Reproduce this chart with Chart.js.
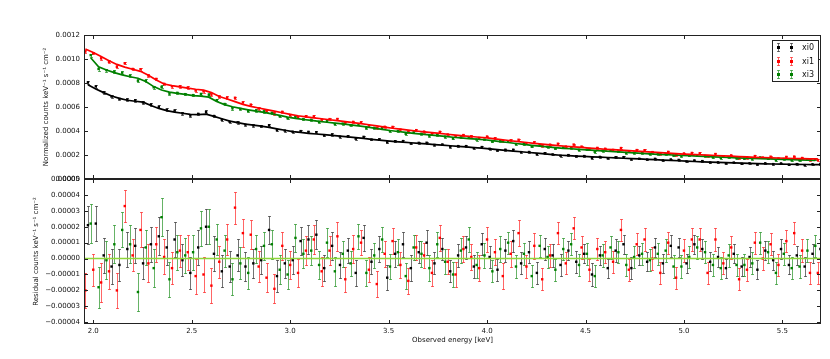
<!DOCTYPE html>
<html>
<head>
<meta charset="utf-8">
<script src="https://cdn.jsdelivr.net/npm/chart.js@4.4.0/dist/chart.umd.min.js"></script>
<style>
  html, body { margin: 0; padding: 0; background: #fff; }
  #wrap { position: relative; width: 830px; height: 359px; overflow: hidden; }
  canvas { position: absolute; left: 0; }
  #topChart { top: 0; }
  #resChart { top: 170px; }
</style>
</head>
<body>
<div id="wrap">
  <canvas id="topChart" width="830" height="190"></canvas>
  <canvas id="resChart" width="830" height="189"></canvas>
</div>
<script>
// ── Data ──────────────────────────────────────────────────────────
// energies in keV, model in 1e-4 counts/keV/s/cm2, residuals + errors in 1e-5

const xTicks = [2.0, 2.5, 3.0, 3.5, 4.0, 4.5, 5.0, 5.5];

const xi0Energy = [1.973,2.013,2.053,2.093,2.133,2.173,2.213,2.253,2.293,2.333,2.373,2.413,2.453,2.493,2.533,2.573,2.613,2.653,2.693,2.733,2.773,2.813,2.853,2.893,2.933,2.973,3.013,3.053,3.093,3.133,3.173,3.213,3.253,3.293,3.333,3.373,3.413,3.453,3.493,3.533,3.573,3.613,3.653,3.693,3.733,3.773,3.813,3.853,3.893,3.933,3.973,4.013,4.053,4.093,4.133,4.173,4.213,4.253,4.293,4.333,4.373,4.413,4.453,4.493,4.533,4.573,4.613,4.653,4.693,4.733,4.773,4.813,4.853,4.893,4.933,4.973,5.013,5.053,5.093,5.133,5.173,5.213,5.253,5.293,5.333,5.373,5.413,5.453,5.493,5.533,5.573,5.613,5.653,5.693];
const xi0Model = [7.85,7.50,7.20,6.92,6.72,6.56,6.48,6.40,6.12,5.88,5.70,5.58,5.48,5.38,5.36,5.40,5.22,5.02,4.82,4.70,4.58,4.49,4.40,4.30,4.18,4.06,3.95,3.88,3.81,3.75,3.69,3.63,3.57,3.51,3.45,3.38,3.31,3.24,3.18,3.12,3.07,3.02,2.97,2.92,2.87,2.82,2.77,2.72,2.67,2.62,2.57,2.51,2.45,2.39,2.33,2.27,2.21,2.15,2.09,2.03,1.98,1.94,1.91,1.88,1.85,1.82,1.79,1.76,1.73,1.70,1.67,1.64,1.61,1.58,1.55,1.52,1.49,1.46,1.43,1.40,1.38,1.36,1.34,1.32,1.30,1.28,1.26,1.25,1.24,1.23,1.22,1.21,1.20,1.19];
const xi0Resid = [2.1,2.2,0.2,-0.5,-0.4,0.6,0.8,-0.3,0.9,1.4,0.7,1.2,-0.1,-0.9,0.7,2.0,0.3,-0.8,-0.5,0.2,-0.5,-0.3,-0.1,1.8,-1.1,-0.3,-0.1,1.1,1.2,1.5,-0.6,0.8,-0.4,0.5,-0.9,1.3,-0.2,0.6,-1.2,0.3,0.9,-0.6,0.4,1.0,-0.3,0.6,-0.8,0.2,0.7,-0.5,0.9,0.1,-0.7,0.5,1.1,-0.3,0.4,-0.9,0.6,0.2,-0.4,0.5,-0.2,0.3,-1.0,0.2,-0.6,0.5,0.9,-0.6,0.2,-0.2,0.7,-0.3,0.8,0.7,-0.3,0.9,0.6,-0.2,0.1,-0.6,0.3,-0.5,0.1,-0.7,0.5,-0.1,0.6,-0.4,0.2,-0.5,0.3,0.6];
const xi0Err = [1.2,1.1,1.1,1.1,1.0,1.1,1.1,1.0,1.1,1.2,1.1,1.1,1.0,1.0,1.1,1.1,1.1,1.0,1.0,1.0,0.9,0.9,0.9,0.9,1.0,0.9,0.9,0.9,0.9,0.9,0.8,0.9,0.8,0.8,0.8,0.8,0.8,0.8,0.8,0.8,0.8,0.8,0.7,0.8,0.7,0.7,0.7,0.7,0.7,0.7,0.7,0.7,0.7,0.7,0.7,0.7,0.7,0.7,0.7,0.7,0.7,0.6,0.7,0.6,0.7,0.6,0.6,0.7,0.6,0.7,0.6,0.6,0.6,0.6,0.7,0.6,0.6,0.6,0.6,0.6,0.6,0.6,0.6,0.6,0.6,0.6,0.6,0.6,0.6,0.6,0.6,0.6,0.6,0.6];

const xi1Energy = [1.960,2.000,2.040,2.080,2.120,2.160,2.200,2.240,2.280,2.320,2.360,2.400,2.440,2.480,2.520,2.560,2.600,2.640,2.680,2.720,2.760,2.800,2.840,2.880,2.920,2.960,3.000,3.040,3.080,3.120,3.160,3.200,3.240,3.280,3.320,3.360,3.400,3.440,3.480,3.520,3.560,3.600,3.640,3.680,3.720,3.760,3.800,3.840,3.880,3.920,3.960,4.000,4.040,4.080,4.120,4.160,4.200,4.240,4.280,4.320,4.360,4.400,4.440,4.480,4.520,4.560,4.600,4.640,4.680,4.720,4.760,4.800,4.840,4.880,4.920,4.960,5.000,5.040,5.080,5.120,5.160,5.200,5.240,5.280,5.320,5.360,5.400,5.440,5.480,5.520,5.560,5.600,5.640,5.680];
const xi1Model = [10.83,10.55,10.20,9.85,9.55,9.32,9.15,8.97,8.65,8.25,7.92,7.78,7.67,7.58,7.48,7.40,7.20,6.88,6.67,6.45,6.22,6.05,5.92,5.78,5.65,5.52,5.38,5.27,5.18,5.10,5.02,4.94,4.86,4.78,4.70,4.62,4.52,4.42,4.32,4.23,4.15,4.08,4.00,3.93,3.86,3.80,3.73,3.66,3.60,3.54,3.48,3.42,3.35,3.27,3.19,3.11,3.04,2.97,2.90,2.84,2.78,2.73,2.68,2.63,2.58,2.53,2.48,2.44,2.40,2.36,2.32,2.28,2.24,2.20,2.16,2.12,2.08,2.05,2.02,1.99,1.96,1.93,1.90,1.87,1.84,1.81,1.79,1.77,1.75,1.73,1.71,1.70,1.68,1.67];
const xi1Resid = [-2.0,-0.7,-1.5,-0.8,-2.0,3.3,0.2,1.8,-0.3,0.9,0.1,-0.6,0.5,0.4,-1.1,-1.0,-1.7,-0.2,1.2,3.2,1.6,1.5,-0.5,-1.2,-1.9,0.8,-0.4,-0.9,0.5,1.2,-0.8,0.5,1.4,-1.3,0.6,1.0,-0.7,-1.6,0.3,1.1,-0.4,-1.4,0.7,0.2,-0.9,1.3,-0.2,-1.0,0.6,0.1,-0.6,1.2,0.4,-1.1,0.3,1.6,-0.5,0.8,-1.3,0.2,1.6,-0.3,1.9,0.7,-0.7,0.6,0.4,-0.2,1.8,-0.7,0.9,1.2,0.0,-0.9,1.0,-1.2,0.5,1.2,1.2,-0.9,1.2,-0.3,0.7,-1.3,-0.7,1.0,0.0,0.9,-0.4,1.1,1.6,0.5,-0.9,-0.9];
const xi1Err = [1.1,1.0,1.2,1.1,1.1,1.0,1.0,1.1,1.2,1.1,1.1,1.0,1.0,1.1,1.1,1.1,1.1,1.0,1.0,1.0,0.9,0.9,1.0,0.9,0.9,0.9,0.9,0.9,0.9,0.9,0.9,0.9,0.9,0.8,0.9,0.8,0.8,0.8,0.8,0.8,0.8,0.8,0.8,0.8,0.8,0.8,0.8,0.8,0.8,0.8,0.8,0.8,0.8,0.8,0.8,0.8,0.7,0.8,0.7,0.7,0.7,0.7,0.7,0.7,0.7,0.7,0.7,0.7,0.7,0.7,0.7,0.7,0.7,0.7,0.7,0.7,0.7,0.7,0.7,0.7,0.7,0.7,0.7,0.7,0.7,0.7,0.7,0.7,0.7,0.7,0.7,0.7,0.7,0.7];

const xi3Energy = [1.987,2.027,2.067,2.107,2.147,2.187,2.227,2.267,2.307,2.347,2.387,2.427,2.467,2.507,2.547,2.587,2.627,2.667,2.707,2.747,2.787,2.827,2.867,2.907,2.947,2.987,3.027,3.067,3.107,3.147,3.187,3.227,3.267,3.307,3.347,3.387,3.427,3.467,3.507,3.547,3.587,3.627,3.667,3.707,3.747,3.787,3.827,3.867,3.907,3.947,3.987,4.027,4.067,4.107,4.147,4.187,4.227,4.267,4.307,4.347,4.387,4.427,4.467,4.507,4.547,4.587,4.627,4.667,4.707,4.747,4.787,4.827,4.867,4.907,4.947,4.987,5.027,5.067,5.107,5.147,5.187,5.227,5.267,5.307,5.347,5.387,5.427,5.467,5.507,5.547,5.587,5.627,5.667];
const xi3Model = [10.10,9.35,9.08,8.86,8.68,8.52,8.40,8.12,7.70,7.42,7.24,7.14,7.05,6.95,6.90,6.82,6.45,6.20,6.02,5.88,5.76,5.65,5.55,5.43,5.30,5.16,5.05,4.96,4.88,4.80,4.73,4.66,4.59,4.51,4.43,4.34,4.24,4.14,4.04,3.96,3.88,3.81,3.74,3.67,3.61,3.55,3.48,3.42,3.37,3.32,3.27,3.20,3.12,3.04,2.96,2.88,2.81,2.74,2.67,2.61,2.56,2.52,2.47,2.42,2.38,2.34,2.30,2.26,2.22,2.18,2.14,2.10,2.06,2.03,2.00,1.97,1.94,1.91,1.88,1.85,1.82,1.79,1.76,1.74,1.72,1.70,1.68,1.66,1.64,1.62,1.60,1.58,1.56];
const xi3Resid = [2.2,-1.8,-0.1,0.9,1.8,0.9,-2.1,0.7,-0.6,2.6,-1.3,0.4,0.2,0.4,1.9,2.0,1.2,0.5,-1.3,-0.3,-0.9,0.6,0.8,0.9,-0.7,-1.0,1.3,0.3,0.5,-0.4,1.0,-0.8,0.3,-0.3,1.4,-0.9,0.2,1.2,-0.5,0.4,-1.1,0.7,0.3,-0.6,0.9,-0.2,-1.0,0.5,1.2,-0.4,0.2,-0.8,0.6,1.0,-0.5,0.3,-1.1,0.8,0.1,-0.7,0.6,0.9,-0.4,0.3,-1.1,0.2,0.7,0.4,-0.4,0.1,0.3,-0.1,0.3,0.5,-0.5,-0.5,0.1,0.7,0.4,-0.4,-0.6,0.2,-0.4,-0.4,-0.3,1.0,0.4,-0.9,0.3,-0.6,-0.5,0.5,0.8];
const xi3Err = [1.2,1.3,1.2,1.2,1.1,1.2,1.2,1.1,1.2,1.2,1.1,1.1,1.1,1.1,1.1,1.1,1.0,1.0,1.0,1.0,1.0,0.9,0.9,0.9,0.9,0.9,0.9,0.9,0.9,0.9,0.9,0.9,0.8,0.8,0.8,0.8,0.8,0.8,0.8,0.8,0.8,0.8,0.8,0.8,0.8,0.8,0.8,0.8,0.8,0.8,0.8,0.7,0.8,0.7,0.7,0.7,0.7,0.7,0.7,0.7,0.7,0.7,0.7,0.7,0.7,0.7,0.7,0.7,0.7,0.7,0.7,0.7,0.7,0.7,0.7,0.7,0.7,0.7,0.7,0.7,0.7,0.7,0.7,0.7,0.7,0.7,0.7,0.7,0.7,0.7,0.7,0.7,0.7];

const seriesNames = ['xi0', 'xi1', 'xi3'];

// ── Style ─────────────────────────────────────────────────────────
const FONT   = "'DejaVu Sans'";
const INK    = '#111';
const MODEL_UNIT = 1e-4;
const RES_UNIT   = 1e-5;
const X_MIN = 1.953, X_MAX = 5.696;

const SERIES = [
  { name: seriesNames[0], color: '#000000', bar: 'rgba(0,0,0,0.55)',    energy: xi0Energy, model: xi0Model, resid: xi0Resid, err: xi0Err },
  { name: seriesNames[1], color: '#ff0000', bar: 'rgba(255,0,0,0.6)',   energy: xi1Energy, model: xi1Model, resid: xi1Resid, err: xi1Err },
  { name: seriesNames[2], color: '#008000', bar: 'rgba(0,128,0,0.6)',   energy: xi3Energy, model: xi3Model, resid: xi3Resid, err: xi3Err },
];

Chart.defaults.font.family = FONT;
Chart.defaults.font.size = 7;
Chart.defaults.color = INK;

// ── Plugins ───────────────────────────────────────────────────────

// vertical error bars with caps, read from dataset.errors
const errorBars = {
  id: 'errorBars',
  beforeDatasetsDraw(chart) {
    const { ctx, chartArea: a, scales: { x, y } } = chart;
    ctx.save();
    ctx.beginPath(); ctx.rect(a.left, a.top, a.width, a.height); ctx.clip();
    ctx.lineWidth = 1;
    chart.data.datasets.forEach(ds => {
      if (!ds.errors) return;
      ctx.strokeStyle = ds.barColor;
      ds.data.forEach((p, i) => {
        const px = Math.round(x.getPixelForValue(p.x)) + 0.5;
        const lo = Math.round(y.getPixelForValue(p.y - ds.errors[i])) + 0.5;
        const hi = Math.round(y.getPixelForValue(p.y + ds.errors[i])) + 0.5;
        ctx.beginPath();
        ctx.moveTo(px, lo); ctx.lineTo(px, hi);
        ctx.moveTo(px - 1.5, lo); ctx.lineTo(px + 1.5, lo);
        ctx.moveTo(px - 1.5, hi); ctx.lineTo(px + 1.5, hi);
        ctx.stroke();
      });
    });
    ctx.restore();
  },
};

// zero line of the residual panel
const zeroLine = {
  id: 'zeroLine',
  afterDatasetsDraw(chart, args, opts) {
    if (!opts.show) return;
    const { ctx, chartArea: a, scales: { y } } = chart;
    const py = y.getPixelForValue(0);
    ctx.save();
    ctx.strokeStyle = '#8fd63a';
    ctx.lineWidth = 1.5;
    ctx.beginPath(); ctx.moveTo(a.left, py); ctx.lineTo(a.right, py); ctx.stroke();
    ctx.restore();
  },
};

// box around the axes + inward ticks on all four sides
const frame = {
  id: 'frame',
  afterDraw(chart) {
    const { ctx, chartArea: a, scales: { x, y } } = chart;
    const L = 4;
    ctx.save();
    ctx.strokeStyle = '#222';
    ctx.lineWidth = 1;
    ctx.strokeRect(Math.round(a.left) + 0.5, Math.round(a.top) + 0.5,
                   Math.round(a.width) - 1, Math.round(a.height) - 1);
    ctx.beginPath();
    xTicks.forEach(v => {
      const px = Math.round(x.getPixelForValue(v)) + 0.5;
      ctx.moveTo(px, a.bottom); ctx.lineTo(px, a.bottom - L);
      ctx.moveTo(px, a.top);    ctx.lineTo(px, a.top + L);
    });
    y.ticks.forEach(t => {
      const py = Math.round(y.getPixelForValue(t.value)) + 0.5;
      ctx.moveTo(a.left, py);  ctx.lineTo(a.left + L, py);
      ctx.moveTo(a.right, py); ctx.lineTo(a.right - L, py);
    });
    ctx.stroke();
    ctx.restore();
  },
};

// matplotlib-style legend box with two errorbar markers per row
const errLegend = {
  id: 'errLegend',
  afterDraw(chart, args, opts) {
    if (!opts.show) return;
    const { ctx, chartArea: a } = chart;
    const w = 46, h = 41;
    const left = a.right - 49, top = a.top + 5;
    ctx.save();
    ctx.fillStyle = '#fff';
    ctx.fillRect(left, top, w, h);
    ctx.strokeStyle = '#222';
    ctx.lineWidth = 1;
    ctx.strokeRect(left + 0.5, top + 0.5, w, h);
    ctx.font = `8px ${FONT}`;
    ctx.textBaseline = 'middle';
    SERIES.forEach((s, i) => {
      const cy = Math.round(top + 7 + i * 13.5) + 0.5;
      [left + 6.5, left + 19.5].forEach(cx => {
        ctx.strokeStyle = s.bar;
        ctx.beginPath();
        ctx.moveTo(cx, cy - 4); ctx.lineTo(cx, cy + 4);
        ctx.moveTo(cx - 1.5, cy - 4); ctx.lineTo(cx + 1.5, cy - 4);
        ctx.moveTo(cx - 1.5, cy + 4); ctx.lineTo(cx + 1.5, cy + 4);
        ctx.stroke();
        ctx.fillStyle = s.color;
        ctx.fillRect(cx - 1.5, cy - 1.5, 3, 3);
      });
      ctx.fillStyle = INK;
      ctx.fillText(s.name, left + 30, cy);
    });
    ctx.restore();
  },
};

// ── Helpers ───────────────────────────────────────────────────────

const fixWidth = s => { s.width = 84; };
const signed = digits => v => (v < -1e-12 ? '\u2212' : '') + Math.abs(v).toFixed(digits);

function pointsOf(s, useModel) {
  return s.energy.map((e, i) => ({
    x: e,
    y: useModel ? s.model[i] * MODEL_UNIT + s.resid[i] * RES_UNIT : s.resid[i] * RES_UNIT,
  }));
}

// ── 1. Normalized counts + model ──────────────────────────────────

function renderTopChart() {
  const modelSets = SERIES.map(s => ({
    type: 'line',
    data: s.energy.map((e, i) => ({ x: e, y: s.model[i] * MODEL_UNIT })),
    borderColor: s.color,
    borderWidth: 1.7,
    pointRadius: 0,
    tension: 0,
    order: 0,
  }));
  const dataSets = SERIES.map(s => ({
    type: 'scatter',
    data: pointsOf(s, true),
    errors: s.err.map(v => v * RES_UNIT),
    barColor: s.bar,
    backgroundColor: s.color,
    borderWidth: 0,
    pointStyle: 'rect',
    pointRadius: 1.7,
    order: 1,
  }));

  new Chart(document.getElementById('topChart'), {
    type: 'scatter',
    data: { datasets: [...modelSets, ...dataSets] },
    plugins: [errorBars, frame, errLegend],
    options: {
      responsive: false,
      animation: false,
      events: [],
      layout: { padding: { top: 35, right: 9, bottom: 11, left: 0 } },
      plugins: { legend: { display: false }, tooltip: { enabled: false }, errLegend: { show: true } },
      scales: {
        x: { type: 'linear', min: X_MIN, max: X_MAX, display: false },
        y: {
          min: 0, max: 0.0012,
          afterFit: fixWidth,
          grid: { display: false, drawTicks: false },
          border: { display: false },
          ticks: { stepSize: 0.0002, includeBounds: false, padding: 4, callback: signed(4) },
          title: {
            display: true,
            text: 'Normalized counts keV\u207B\u00B9 s\u207B\u00B9 cm\u207B\u00B2',
            padding: { top: 42, bottom: 0 },
            font: { size: 7 },
          },
        },
      },
    },
  });
}

// ── 2. Residuals ──────────────────────────────────────────────────

function renderResidualChart() {
  const sets = SERIES.map(s => ({
    data: pointsOf(s, false),
    errors: s.err.map(v => v * RES_UNIT),
    barColor: s.bar,
    backgroundColor: s.color,
    borderWidth: 0,
    pointStyle: 'rect',
    pointRadius: 1.7,
  }));

  new Chart(document.getElementById('resChart'), {
    type: 'scatter',
    data: { datasets: sets },
    plugins: [errorBars, zeroLine, frame],
    options: {
      responsive: false,
      animation: false,
      events: [],
      layout: { padding: { top: 9, right: 9, bottom: 0, left: 0 } },
      plugins: { legend: { display: false }, tooltip: { enabled: false }, zeroLine: { show: true } },
      scales: {
        x: {
          type: 'linear', min: X_MIN, max: X_MAX,
          afterFit: s => { s.height = 35; },
          grid: { display: false, drawTicks: false },
          border: { display: false },
          ticks: { stepSize: 0.5, includeBounds: false, padding: 3, maxRotation: 0, callback: v => v.toFixed(1) },
          title: { display: true, text: 'Observed energy [keV]', padding: { top: 0, bottom: 15 }, font: { size: 7 } },
        },
        y: {
          min: -0.0000411, max: 0.00005,
          afterFit: fixWidth,
          grid: { display: false, drawTicks: false },
          border: { display: false },
          ticks: { stepSize: 0.00001, includeBounds: false, padding: 4, callback: signed(5) },
          title: {
            display: true,
            text: 'Residual counts keV\u207B\u00B9 s\u207B\u00B9 cm\u207B\u00B2',
            padding: { top: 32, bottom: 0 },
            font: { size: 7 },
          },
        },
      },
    },
  });
}

renderTopChart();
renderResidualChart();
</script>
</body>
</html>
